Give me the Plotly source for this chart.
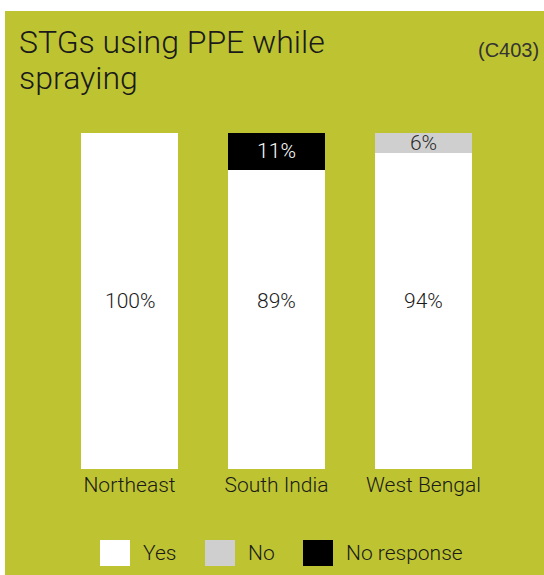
import plotly.graph_objects as go

# data
regions = ['Northeast', 'South India', 'West Bengal']
yes = [100, 89, 94]
no = [0, 0, 6]
no_response = [0, 11, 0]

series_names = ['Yes', 'No', 'No response']
series_colors = ['#ffffff', '#cfcfcf', '#000000']
text_colors = ['#1a1a1a', '#2a2a2a', '#ffffff']
corner = [0, 0, 4]

title_lines = ['STGs using PPE while', 'spraying']

W, H = 544, 575
ML, MR, MT, MB = 56, 47, 133, 106
PW, PH = W - ML - MR, H - MT - MB


def px(x):
    return (x - ML) / PW


def py(y):
    return (H - MB - y) / PH


FONT = 'Roboto'
BG = '#bec431'

fig = go.Figure()

for name, vals, col, tcol, cr in zip(series_names, [yes, no, no_response],
                                     series_colors, text_colors, corner):
    fig.add_trace(go.Bar(
        x=regions, y=vals, name=name,
        marker=dict(color=col, line=dict(width=0), cornerradius=cr),
        # the "Yes" labels sit at mid-height of the bar, added below
        text=[f'{v}%' if v and name != 'Yes' else '' for v in vals],
        textposition='inside', insidetextanchor='middle',
        constraintext='none',
        textfont=dict(family=FONT, size=21, color=tcol, weight=300),
        showlegend=False,
    ))

shapes = [dict(type='rect', xref='paper', yref='paper',
               x0=px(5), x1=px(W + 5), y0=py(11), y1=py(H + 5),
               fillcolor=BG, line=dict(width=0), layer='below')]

annotations = [
    dict(text='(C403)', xref='paper', yref='paper',
         x=px(541), y=py(50), xanchor='right', yanchor='middle',
         showarrow=False,
         font=dict(family='Liberation Sans', size=20, color='#333333')),
]

# title, one annotation per line for tighter line spacing
for i, line in enumerate(title_lines):
    annotations.append(dict(text=line, xref='paper', yref='paper',
                            x=px(17), y=py(21 + 36 * i), xanchor='left',
                            yanchor='top', showarrow=False,
                            font=dict(family=FONT, size=32, color='#1a1a1a',
                                      weight=300)))

for r, v in zip(regions, yes):
    annotations.append(dict(text=f'{v}%', x=r, y=50, xref='x', yref='y',
                            showarrow=False,
                            font=dict(family=FONT, size=21, color='#1a1a1a',
                                      weight=300)))

# legend drawn by hand so the swatches can be large
leg_x = [100, 205, 303]
for name, col, lx in zip(series_names, series_colors, leg_x):
    shapes.append(dict(type='rect', xref='paper', yref='paper',
                       x0=px(lx), x1=px(lx + 30), y0=py(566), y1=py(540),
                       fillcolor=col, line=dict(width=0)))
    annotations.append(dict(text=name, xref='paper', yref='paper',
                            x=px(lx + 41), y=py(553), xanchor='left',
                            yanchor='middle', showarrow=False,
                            font=dict(family=FONT, size=21, color='#1a1a1a',
                                      weight=300)))

fig.update_layout(
    barmode='stack',
    bargap=0.34,
    width=W, height=H,
    margin=dict(l=ML, r=MR, t=MT, b=MB),
    paper_bgcolor='#ffffff',
    plot_bgcolor='rgba(0,0,0,0)',
    shapes=shapes,
    annotations=annotations,
    xaxis=dict(showgrid=False, showline=False, zeroline=False,
               ticks='', ticklabelstandoff=1,
               tickfont=dict(family=FONT, size=21, color='#1a1a1a',
                             weight=300),
               range=[-0.5, 2.5]),
    yaxis=dict(visible=False, range=[0, 100]),
)

fig.write_html('out.html', config={'displayModeBar': False},
               post_script="document.body.style.margin='0';")
